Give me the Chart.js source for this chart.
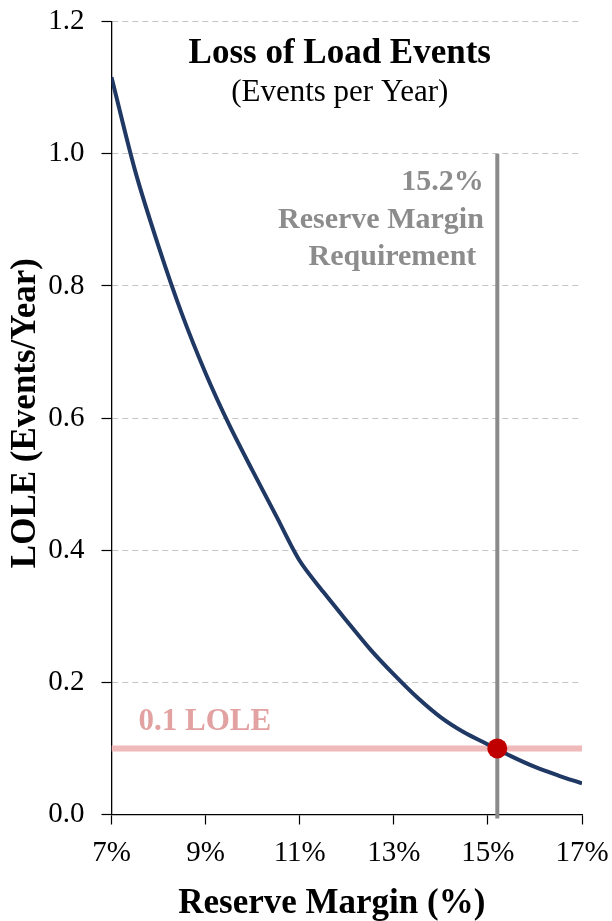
<!DOCTYPE html>
<html>
<head>
<meta charset="utf-8">
<script src="https://cdn.jsdelivr.net/npm/chart.js@4"></script>
<style>
html,body{margin:0;padding:0;background:#fff;}
canvas{display:block;}
</style>
</head>
<body>
<canvas id="c" width="612" height="921"></canvas>
<script>
// ---- data ----
const reserveMargin = [7.0, 7.5, 8.0, 8.5, 9.0, 9.5, 10.0, 10.5, 11.0, 11.5, 12.0, 12.5, 13.0, 13.5, 14.0, 14.5, 15.0, 15.5, 16.0, 16.5, 17.0];
const loleValues    = [1.116, 0.975, 0.860, 0.757, 0.668, 0.590, 0.520, 0.452, 0.384, 0.337, 0.293, 0.250, 0.212, 0.177, 0.147, 0.124, 0.106, 0.088, 0.072, 0.059, 0.047];
const xTickValues = [7, 9, 11, 13, 15, 17];
const yTickValues = [0, 0.2, 0.4, 0.6, 0.8, 1.0, 1.2];
const loleTarget = 0.1;
const requiredMargin = 15.2;
const reqLineTop = 1.0;
const reqLineBottom = -0.006;
const titleText = 'Loss of Load Events';
const subtitleText = '(Events per Year)';
const reqLabels = ['15.2%', 'Reserve Margin', 'Requirement '];
const targetLabel = '0.1 LOLE';
const xTitle = 'Reserve Margin (%)';
const yTitle = 'LOLE (Events/Year)';

const SERIF = "'Liberation Serif', 'Times New Roman', serif";

const textPlugin = {
  id: 'texts',
  afterDraw(chart) {
    const { ctx, scales: { x, y } } = chart;
    ctx.save();
    ctx.fillStyle = '#000';
    ctx.textAlign = 'center';
    ctx.textBaseline = 'alphabetic';
    const cx = (x.left + x.right) / 2 - 7;
    ctx.font = 'bold 35px ' + SERIF;
    ctx.fillText(titleText, cx, 62.5);
    ctx.font = '31px ' + SERIF;
    ctx.fillText(subtitleText, cx, 101);

    // requirement annotation
    ctx.fillStyle = '#8c8c8c';
    ctx.font = 'bold 30px ' + SERIF;
    ctx.textAlign = 'right';
    const rx = x.getPixelForValue(requiredMargin) - 13.5;
    const ry = y.getPixelForValue(reqLineTop);
    const offs = [36.3, 74.3, 111.3];
    reqLabels.forEach((t, i) => ctx.fillText(t, rx, ry + offs[i]));

    // target label
    ctx.fillStyle = '#e2a2a2';
    ctx.font = 'bold 31px ' + SERIF;
    ctx.textAlign = 'left';
    ctx.fillText(targetLabel, x.left + 27, y.getPixelForValue(loleTarget) - 18.5);

    // axis titles
    ctx.fillStyle = '#000';
    ctx.font = 'bold 35px ' + SERIF;
    ctx.textAlign = 'center';
    ctx.fillText(xTitle, cx - 8, 912.5);
    ctx.save();
    ctx.translate(35, (y.top + y.bottom) / 2 - 5);
    ctx.rotate(-Math.PI / 2);
    ctx.fillText(yTitle, 0, 0);
    ctx.restore();
    ctx.restore();
  }
};

const tickFont = { family: SERIF, size: 29 };

new Chart(document.getElementById('c'), {
  type: 'line',
  data: {
    datasets: [
      {
        label: 'Requirement point',
        data: [{ x: requiredMargin, y: loleTarget }],
        showLine: false,
        pointRadius: 10,
        pointBackgroundColor: '#c00000',
        pointBorderWidth: 0,
        clip: false
      },
      {
        label: 'LOLE',
        data: reserveMargin.map((v, i) => ({ x: v, y: loleValues[i] })),
        borderColor: '#1f3864',
        borderWidth: 4,
        pointRadius: 0,
        tension: 0.3,
        fill: false
      },
      {
        label: 'Requirement line',
        data: [{ x: requiredMargin, y: reqLineTop }, { x: requiredMargin, y: reqLineBottom }],
        borderColor: '#8a8a8a',
        borderWidth: 4,
        pointRadius: 0,
        clip: false
      },
      {
        label: 'Target',
        data: [{ x: xTickValues[0], y: loleTarget }, { x: xTickValues[xTickValues.length - 1], y: loleTarget }],
        borderColor: '#f1baba',
        borderWidth: 6,
        pointRadius: 0
      }
    ]
  },
  options: {
    responsive: false,
    animation: false,
    events: [],
    layout: { padding: { top: 21.7, right: 30, left: 0, bottom: 0 } },
    plugins: { legend: { display: false }, tooltip: { enabled: false }, title: { display: false } },
    scales: {
      x: {
        type: 'linear',
        min: 7,
        max: 17,
        afterBuildTicks: s => { s.ticks = xTickValues.map(v => ({ value: v })); },
        afterFit: s => { s.height = 106.5; s.paddingLeft = 0; s.paddingRight = 0; },
        ticks: { callback: v => v + '%', font: tickFont, color: '#000', padding: 11, maxRotation: 0, autoSkip: false },
        grid: { drawOnChartArea: false, drawTicks: true, tickLength: 10, tickColor: '#000', tickWidth: 1.2 },
        border: { color: '#000', width: 1.3 }
      },
      y: {
        type: 'linear',
        min: 0,
        max: 1.2,
        afterBuildTicks: s => { s.ticks = yTickValues.map(v => ({ value: v })); },
        afterFit: s => { s.width = 111.5; s.paddingTop = 0; s.paddingBottom = 0; },
        ticks: { callback: v => Number(v).toFixed(1), font: tickFont, color: '#000', padding: 17 },
        grid: { color: '#c4c4c4', lineWidth: 1, tickLength: 10, tickColor: '#000', tickWidth: 1.2, tickBorderDash: [] },
        border: { color: '#000', width: 1.3, dash: [6, 4] }
      }
    }
  },
  plugins: [textPlugin]
});
</script>
</body>
</html>
